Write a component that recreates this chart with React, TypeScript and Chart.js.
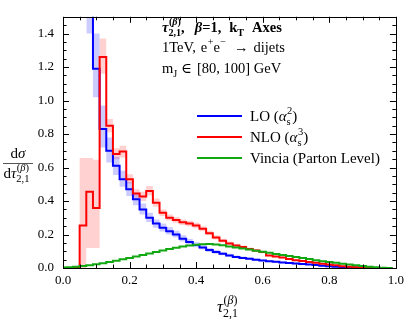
import React, { useEffect, useRef } from 'react';
import { Chart, registerables } from 'chart.js';

Chart.register(...registerables);

// ---------- data ----------
const BIN_WIDTH = 0.02;
const BIN_LEFT = [
  -0.01, 0.01, 0.03, 0.05, 0.07, 0.09, 0.11, 0.13, 0.15, 0.17,
  0.19, 0.21, 0.23, 0.25, 0.27, 0.29, 0.31, 0.33, 0.35, 0.37,
  0.39, 0.41, 0.43, 0.45, 0.47, 0.49, 0.51, 0.53, 0.55, 0.57,
  0.59, 0.61, 0.63, 0.65, 0.67, 0.69, 0.71, 0.73, 0.75, 0.77,
  0.79, 0.81, 0.83, 0.85, 0.87, 0.89, 0.91, 0.93, 0.95, 0.97,
];

const LO: (number | null)[] = [
  null, null, null, null, 2.0, 1.19, 0.83, 0.70, 0.61, 0.53,
  0.47, 0.41, 0.35, 0.30, 0.265, 0.24, 0.22, 0.20, 0.175, 0.155,
  0.138, 0.122, 0.107, 0.095, 0.085, 0.075, 0.066, 0.060, 0.055, 0.050,
  0.045, 0.041, 0.037, 0.033, 0.030, 0.027, 0.024, 0.021, 0.018, 0.014,
  0.011, 0.008, 0.006, 0.004, 0.003, 0.002, 0.001, 0, 0, 0,
];
const LO_LOW: (number | null)[] = [
  null, null, null, null, 1.40, 1.02, 0.72, 0.63, 0.555, 0.485,
  0.43, 0.375, 0.32, 0.275, 0.24, 0.218, 0.20, 0.182, 0.158, 0.14,
  0.124, 0.11, 0.096, 0.085, 0.076, 0.067, 0.059, 0.053, 0.048, 0.044,
  0.040, 0.036, 0.032, 0.029, 0.026, 0.023, 0.021, 0.018, 0.015, 0.012,
  0.009, 0.007, 0.005, 0.003, 0.002, 0.001, 0.0005, 0, 0, 0,
];
const LO_HIGH: (number | null)[] = [
  null, null, null, null, 2.2, 1.40, 0.97, 0.78, 0.665, 0.58,
  0.515, 0.45, 0.385, 0.33, 0.29, 0.265, 0.243, 0.222, 0.195, 0.173,
  0.154, 0.136, 0.12, 0.107, 0.096, 0.085, 0.075, 0.068, 0.063, 0.057,
  0.051, 0.047, 0.042, 0.038, 0.035, 0.031, 0.028, 0.025, 0.021, 0.017,
  0.013, 0.010, 0.008, 0.005, 0.004, 0.003, 0.002, 0, 0, 0,
];

const NLO: number[] = [
  0, 0, 0, 0.254, 0.455, 0.358, 1.26, 0.85, 0.68, 0.695,
  0.53, 0.445, 0.427, 0.46, 0.39, 0.33, 0.30, 0.287, 0.273, 0.265,
  0.254, 0.235, 0.208, 0.182, 0.163, 0.147, 0.135, 0.125, 0.114, 0.105,
  0.095, 0.075, 0.068, 0.062, 0.053, 0.047, 0.042, 0.036, 0.031, 0.026,
  0.021, 0.016, 0.011, 0.007, 0.004, 0.002, 0, 0, 0, 0,
];
const NLO_LOW: number[] = [
  0, 0, 0, 0.0, 0.12, 0.12, 1.16, 0.81, 0.65, 0.66,
  0.505, 0.42, 0.40, 0.435, 0.365, 0.31, 0.283, 0.27, 0.257, 0.25,
  0.238, 0.22, 0.195, 0.17, 0.152, 0.137, 0.125, 0.116, 0.105, 0.097,
  0.088, 0.069, 0.062, 0.057, 0.048, 0.042, 0.038, 0.032, 0.027, 0.023,
  0.018, 0.013, 0.009, 0.005, 0.003, 0.001, 0, 0, 0, 0,
];
const NLO_HIGH: number[] = [
  0, 0, 0, 0.657, 0.657, 0.646, 1.37, 0.89, 0.715, 0.73,
  0.56, 0.47, 0.455, 0.49, 0.415, 0.35, 0.32, 0.305, 0.29, 0.282,
  0.27, 0.25, 0.222, 0.195, 0.175, 0.158, 0.145, 0.135, 0.123, 0.114,
  0.103, 0.082, 0.075, 0.068, 0.059, 0.052, 0.047, 0.040, 0.035, 0.030,
  0.024, 0.019, 0.014, 0.009, 0.006, 0.003, 0, 0, 0, 0,
];

const VINCIA: number[] = [
  0.003, 0.005, 0.008, 0.012, 0.017, 0.023, 0.029, 0.036, 0.044, 0.052,
  0.060, 0.068, 0.077, 0.086, 0.095, 0.104, 0.113, 0.121, 0.128, 0.134,
  0.139, 0.142, 0.143, 0.141, 0.136, 0.129, 0.123, 0.116, 0.110, 0.103,
  0.097, 0.091, 0.084, 0.077, 0.071, 0.065, 0.059, 0.053, 0.047, 0.041,
  0.036, 0.031, 0.026, 0.021, 0.016, 0.012, 0.008, 0.005, 0.002, 0,
];

const X_TICKS = [0, 0.2, 0.4, 0.6, 0.8, 1.0];
const Y_TICKS = [0, 0.2, 0.4, 0.6, 0.8, 1.0, 1.2, 1.4];
const MINOR_STEP = 0.05;

// ---------- helpers ----------
const FAMILY = "'Liberation Serif', 'DejaVu Serif', serif";
Chart.defaults.font.family = FAMILY;

function toSteps(values: (number | null)[]) {
  const pts: { x: number; y: number }[] = [];
  values.forEach((v, i) => {
    if (v === null) return;
    pts.push({ x: BIN_LEFT[i], y: v }, { x: BIN_LEFT[i] + BIN_WIDTH, y: v });
  });
  return pts;
}

type Seg = { t?: string; it?: boolean; sup?: Seg[]; sub?: Seg[]; gap?: number };

function fontStr(size: number, it?: boolean, bold?: boolean) {
  return `${it ? 'italic ' : ''}${bold ? 'bold ' : ''}${size}px ${FAMILY}`;
}

function drawSegs(ctx: CanvasRenderingContext2D, segs: Seg[], x: number, y: number, size: number, bold = false): number {
  for (const s of segs) {
    if (s.gap) x += s.gap;
    if (s.t) {
      ctx.font = fontStr(size, s.it, bold);
      ctx.fillText(s.t, x, y);
      x += ctx.measureText(s.t).width;
    }
    if (s.sup || s.sub) {
      const ss = size * 0.7;
      let w1 = 0;
      let w2 = 0;
      if (s.sup) w1 = drawSegs(ctx, s.sup, x + 0.5, y - size * 0.45, ss, bold) - x;
      if (s.sub) w2 = drawSegs(ctx, s.sub, x, y + size * 0.28, ss, bold) - x;
      x += Math.max(w1, w2);
    }
  }
  return x;
}

const BETA_SUP: Seg[] = [{ t: '(' }, { t: 'β', it: true }, { t: ')' }];
const TAU: Seg = { t: 'τ', it: true, sup: BETA_SUP, sub: [{ t: '2,1' }] };

const overlayPlugin = {
  id: 'overlay',
  afterDatasetsDraw(chart: any) {
    const ctx: CanvasRenderingContext2D = chart.ctx;
    const { left, right, top, bottom } = chart.chartArea;
    const xs = chart.scales.x;
    const ys = chart.scales.y;
    ctx.save();
    ctx.strokeStyle = '#000';
    ctx.lineWidth = 1;
    ctx.strokeRect(Math.round(left) + 0.5, Math.round(top) + 0.5, Math.round(right - left), Math.round(bottom - top));
    ctx.beginPath();
    const nX = Math.round((xs.max - xs.min) / MINOR_STEP);
    for (let k = 0; k <= nX; k++) {
      const v = xs.min + k * MINOR_STEP;
      const major = X_TICKS.some((t) => Math.abs(t - v) < 1e-6);
      const len = major ? 6 : 3.5;
      const px = Math.round(xs.getPixelForValue(v)) + 0.5;
      ctx.moveTo(px, bottom);
      ctx.lineTo(px, bottom - len);
      ctx.moveTo(px, top);
      ctx.lineTo(px, top + len);
    }
    const nY = Math.round((ys.max - ys.min) / MINOR_STEP);
    for (let k = 0; k <= nY; k++) {
      const v = ys.min + k * MINOR_STEP;
      const major = Y_TICKS.some((t) => Math.abs(t - v) < 1e-6);
      const len = major ? 6 : 3.5;
      const py = Math.round(ys.getPixelForValue(v)) + 0.5;
      ctx.moveTo(left, py);
      ctx.lineTo(left + len, py);
      ctx.moveTo(right, py);
      ctx.lineTo(right - len, py);
    }
    ctx.stroke();
    ctx.restore();
  },
  afterDraw(chart: any) {
    const ctx: CanvasRenderingContext2D = chart.ctx;
    ctx.save();
    ctx.fillStyle = '#000';
    ctx.textAlign = 'left';
    ctx.textBaseline = 'alphabetic';

    // annotation
    drawSegs(ctx, [TAU, { t: ',' }, { t: 'β', it: true, gap: 10 }, { t: '=1,' }, { t: 'k', gap: 8, sub: [{ t: 'T' }] }, { t: 'Axes', gap: 8 }], 162, 32, 14.5, true);
    drawSegs(ctx, [{ t: '1TeV,' }, { t: 'e', gap: 5, sup: [{ t: '+' }] }, { t: 'e', sup: [{ t: '−' }] }, { t: '→', gap: 8 }, { t: 'dijets', gap: 5 }], 162, 52, 14.5);
    drawSegs(ctx, [{ t: 'm', sub: [{ t: 'J' }] }, { t: '∈', gap: 4 }, { t: '[80, 100] GeV', gap: 5 }], 162, 73, 14.5);

    // legend
    const legend: { color: string; segs: Seg[] }[] = [
      { color: '#0000ff', segs: [{ t: 'LO (' }, { t: 'α', it: true, sup: [{ t: '2' }], sub: [{ t: 's' }] }, { t: ')' }] },
      { color: '#ff0000', segs: [{ t: 'NLO (' }, { t: 'α', it: true, sup: [{ t: '3' }], sub: [{ t: 's' }] }, { t: ')' }] },
      { color: '#12a812', segs: [{ t: 'Vincia (Parton Level)' }] },
    ];
    legend.forEach((item, i) => {
      const y = 116 + i * 21;
      ctx.strokeStyle = item.color;
      ctx.lineWidth = 2;
      ctx.beginPath();
      ctx.moveTo(197, y);
      ctx.lineTo(242, y);
      ctx.stroke();
      drawSegs(ctx, item.segs, 250, y + 5, 15);
    });

    // y title (fraction)
    ctx.font = fontStr(15);
    const wd = ctx.measureText('d').width;
    ctx.font = fontStr(15, true);
    const ws = ctx.measureText('σ').width;
    const numX = 18 - (wd + ws) / 2;
    drawSegs(ctx, [{ t: 'd' }, { t: 'σ', it: true }], numX, 158, 15);
    ctx.strokeStyle = '#555';
    ctx.lineWidth = 1;
    ctx.beginPath();
    ctx.moveTo(3, 163.5);
    ctx.lineTo(33, 163.5);
    ctx.stroke();
    drawSegs(ctx, [{ t: 'd' }, TAU], 3.5, 178, 15);

    // x title
    drawSegs(ctx, [TAU], 217, 312, 17);
    ctx.restore();
  },
};

export default function App() {
  const canvasRef = useRef<HTMLCanvasElement>(null);

  useEffect(() => {
    document.body.style.margin = '0';
    const canvas = canvasRef.current;
    if (!canvas) return;
    const band = (values: (number | null)[], color: string, fill: any) => ({
      data: toSteps(values),
      borderWidth: 0,
      borderColor: 'rgba(0,0,0,0)',
      backgroundColor: color,
      pointRadius: 0,
      fill,
      order: 10,
    });
    const line = (values: (number | null)[], color: string, order: number) => ({
      data: toSteps(values),
      borderWidth: 2,
      borderColor: color,
      borderJoinStyle: 'miter' as const,
      pointRadius: 0,
      fill: false,
      order,
    });
    const tickFont = { family: FAMILY, size: 13, style: 'normal' as const, weight: 'normal' as const };
    const chart = new Chart(canvas, {
      type: 'line',
      data: {
        datasets: [
          band(LO_HIGH, 'rgba(0,0,255,0.2)', { target: 1 }),
          band(LO_LOW, 'rgba(0,0,255,0.2)', false),
          band(NLO_HIGH, 'rgba(255,0,0,0.18)', { target: 3 }),
          band(NLO_LOW, 'rgba(255,0,0,0.18)', false),
          line(LO, '#0000ff', 3),
          line(NLO, '#ff0000', 2),
          line(VINCIA, '#12a812', 1),
        ] as any,
      },
      options: {
        responsive: false,
        animation: false,
        events: [],
        layout: { padding: { top: 1, right: 9, left: 0, bottom: 0 } },
        plugins: { legend: { display: false }, tooltip: { enabled: false } },
        scales: {
          x: {
            type: 'linear',
            min: 0,
            max: 1,
            afterBuildTicks: (s: any) => { s.ticks = X_TICKS.map((v) => ({ value: v })); },
            afterFit: (s: any) => { s.height = 51; },
            ticks: {
              callback: (v: any) => Number(v).toFixed(1),
              font: tickFont,
              color: '#000',
              padding: 5,
              maxRotation: 0,
            },
            grid: { display: false, drawTicks: false },
            border: { display: false },
          },
          y: {
            type: 'linear',
            min: 0,
            max: 1.5,
            afterBuildTicks: (s: any) => { s.ticks = Y_TICKS.map((v) => ({ value: v })); },
            afterFit: (s: any) => { s.width = 63; },
            ticks: {
              callback: (v: any) => Number(v).toFixed(1),
              font: tickFont,
              color: '#000',
              padding: 9,
            },
            grid: { display: false, drawTicks: false },
            border: { display: false },
          },
        },
      },
      plugins: [overlayPlugin],
    });
    return () => chart.destroy();
  }, []);

  return (
    <div style={{ width: 409, height: 319, background: '#fff' }}>
      <canvas ref={canvasRef} width={409} height={319} style={{ display: 'block' }} />
    </div>
  );
}
